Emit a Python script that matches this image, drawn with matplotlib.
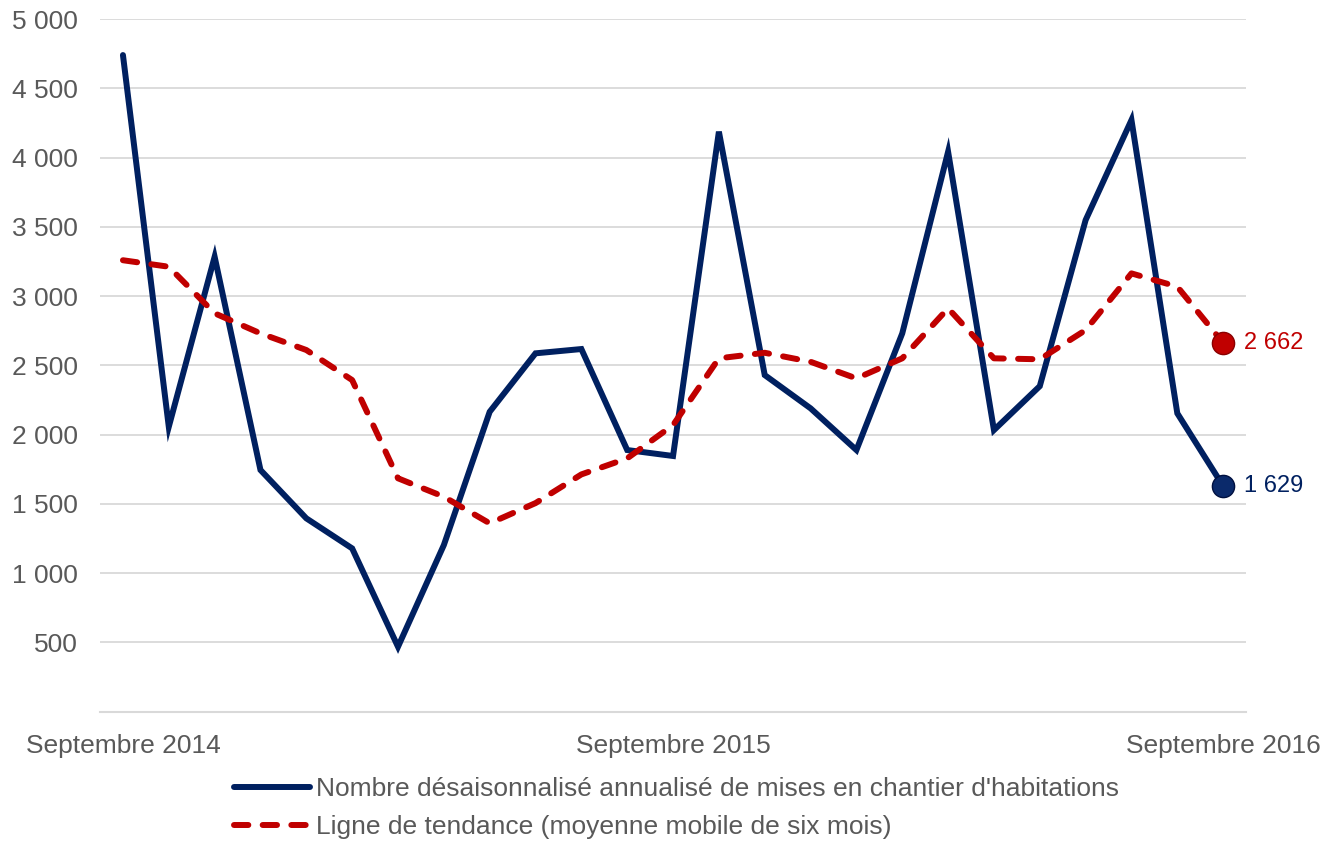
import matplotlib.pyplot as plt
from matplotlib.ticker import FuncFormatter, MultipleLocator

plt.rcParams["font.family"] = ["Liberation Sans", "DejaVu Sans"]

# monthly data, Sept 2014 -> Sept 2016
months = list(range(25))
tick_pos = [0, 12, 24]
tick_labels = ["Septembre 2014", "Septembre 2015", "Septembre 2016"]

mises_en_chantier = [4740, 2057, 3284, 1745, 1396, 1179, 469, 1203, 2165, 2587,
                     2618, 1889, 1846, 4187, 2430, 2190, 1889, 2731, 4042, 2033,
                     2350, 3549, 4271, 2154, 1629]
tendance = [3259, 3212, 2876, 2731, 2611, 2394, 1685, 1552, 1360, 1506,
            1713, 1829, 2069, 2551, 2591, 2526, 2406, 2551, 2912, 2551,
            2544, 2755, 3164, 3068, 2662]

label_bleu = "Nombre désaisonnalisé annualisé de mises en chantier d'habitations"
label_rouge = "Ligne de tendance (moyenne mobile de six mois)"

BLEU = "#002060"
ROUGE = "#C00000"
GRIS = "#595959"

fig = plt.figure(figsize=(13.39, 8.42), dpi=100)
ax = fig.add_axes([0.0747, 0.1547, 0.8559, 0.8227])

ax.plot(months, mises_en_chantier, color=BLEU, lw=4.3, solid_joinstyle="miter",
        solid_capstyle="round", label=label_bleu, zorder=3)
ax.plot(months, tendance, color=ROUGE, lw=4.3, linestyle=(0, (2.4, 2.4)),
        dash_capstyle="round", label=label_rouge, zorder=3)

# end markers + labels
ax.plot(months[-1], tendance[-1], "o", ms=16, color=ROUGE, mec="#8a0000", mew=1, zorder=4)
ax.plot(months[-1], mises_en_chantier[-1], "o", ms=16, color="#0b2a6b", mec="#001040", mew=1, zorder=4)

fmt = lambda v: f"{v:,.0f}".replace(",", " ")
ax.annotate(fmt(tendance[-1]), (months[-1], tendance[-1]), xytext=(15, 0),
            textcoords="offset points", va="center", ha="left", fontsize=17,
            color=ROUGE, annotation_clip=False)
ax.annotate(fmt(mises_en_chantier[-1]), (months[-1], mises_en_chantier[-1]), xytext=(15, 0),
            textcoords="offset points", va="center", ha="left", fontsize=17,
            color=BLEU, annotation_clip=False)

ax.set_xlim(-0.5, 24.5)
ax.set_ylim(0, 5000)
ax.yaxis.set_major_locator(MultipleLocator(500))
ax.yaxis.set_major_formatter(FuncFormatter(lambda v, p: "" if v == 0 else fmt(v)))
ax.set_xticks(tick_pos)
ax.set_xticklabels(tick_labels)
ax.tick_params(axis="both", length=0, labelsize=19, labelcolor=GRIS)
ax.tick_params(axis="y", pad=16)
ax.tick_params(axis="x", pad=16)

ax.grid(axis="y", color="#d9d9d9", lw=1.3)
for s in ["top", "right", "left"]:
    ax.spines[s].set_visible(False)
ax.spines["bottom"].set_color("#d9d9d9")
ax.spines["bottom"].set_linewidth(1.5)

leg = fig.legend(loc="upper center", bbox_to_anchor=(0.505, 0.090), ncol=1,
                 frameon=False, fontsize=19, handlelength=2.9, handletextpad=0.2,
                 labelspacing=0.55, borderaxespad=0)
for t in leg.get_texts():
    t.set_color(GRIS)

fig.savefig("out.png", dpi=100)
